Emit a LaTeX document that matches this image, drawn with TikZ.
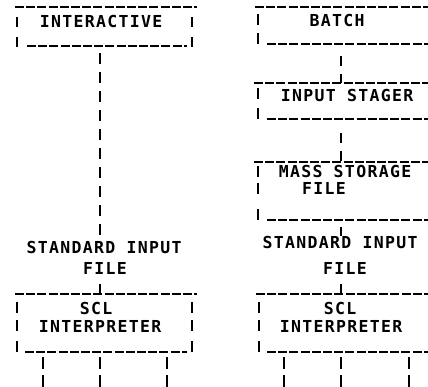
\documentclass[tikz,border=0pt]{standalone}
\usepackage{xcolor}
\usepackage{fontspec}
\usepackage{tikz}
\newfontfamily\lpfont{DejaVu Sans Mono}[BoldFont={DejaVu Sans Mono Bold}, LetterSpace=8]

\tikzset{
    lptext/.style={font=\fontsize{16.5}{18}\lpfont\bfseries, inner sep=0pt},
    hline/.style={line width=2.2pt, dash pattern=on 9pt off 2.2pt},
    bar/.style={line width=2.6pt},
    vline/.style={line width=2.6pt, dash pattern=on 11pt off 8pt},
    tick/.style={line width=2.6pt, dash pattern=on 10pt off 8pt},
    outline/.style={line width=2.6pt, dash pattern=on 12pt off 6pt}
}

\begin{document}
\begin{tikzpicture}[x=1pt, y=-1pt]
    \useasboundingbox (0,0) rectangle (428,386);

    % Texts
    \node[lptext] (inter) at (101,21) {INTERACTIVE};
    \node[lptext] (batch) at (337,20) {BATCH};
    \node[lptext] (stager) at (347,95) {INPUT STAGER};
    \node[lptext] (mass) at (345,171) {MASS STORAGE};
    \node[lptext] (massfile) at (324,188) {FILE};
    \node[lptext] (stdL) at (104,247) {STANDARD INPUT};
    \node[lptext] (fileL) at (105,268) {FILE};
    \node[lptext] (stdR) at (340,242) {STANDARD INPUT};
    \node[lptext] (fileR) at (345,268) {FILE};
    \node[lptext] (sclL) at (96,308) {SCL};
    \node[lptext] (interpL) at (100,326) {INTERPRETER};
    \node[lptext] (sclR) at (340,308) {SCL};
    \node[lptext] (interpR) at (341,326) {INTERPRETER};

    % Box edges
    \coordinate (inter-bot) at (100,53);
    \coordinate (batch-bot) at (341,56);
    \coordinate (stager-top) at (341,83);
    \coordinate (stager-bot) at (341,133);
    \coordinate (mass-top) at (341,162);
    \coordinate (mass-bot) at (341,227);
    \coordinate (sclL-top) at (100,294);
    \coordinate (sclR-top) at (341,294);
    \coordinate (sclL-bot) at (100,357);
    \coordinate (sclR-bot) at (341,357);

    % INTERACTIVE box
    \draw[hline] (15,7) -- (197,7);
    \draw[hline] (27,46) -- (187,46);
    \foreach \x in {17,192}
        \foreach \y in {17,37}
            \draw[bar] (\x,\y) -- ++(0,10);

    % BATCH box
    \draw[hline] (255,7) -- (428,7);
    \draw[hline] (267,44) -- (428,44);
    \foreach \y in {14,33}
        \draw[bar] (258,\y) -- ++(0,11);

    % INPUT STAGER box
    \draw[hline] (254,83) -- (428,83);
    \draw[hline] (267,119) -- (428,119);
    \foreach \y in {88,108}
        \draw[bar] (258,\y) -- ++(0,11);

    % MASS STORAGE FILE box
    \draw[hline] (254,162) -- (428,162);
    \draw[hline] (267,220) -- (428,220);
    \foreach \y in {166,183,209}
        \draw[bar] (258,\y) -- ++(0,11);

    % SCL INTERPRETER boxes
    \draw[hline] (15,294) -- (197,294);
    \draw[hline] (25,352) -- (187,352);
    \draw[hline] (256,294) -- (428,294);
    \draw[hline] (267,352) -- (428,352);
    \foreach \y in {302,320,341} {
        \draw[bar] (17,\y) -- ++(0,11);
        \draw[bar] (192,\y) -- ++(0,11);
        \draw[bar] (259,\y) -- ++(0,11);
    }

    % Connectors
    \draw[vline] (inter-bot) -- (stdL.north -| inter-bot);
    \draw[tick] (batch-bot) -- (stager-top);
    \draw[tick] (stager-bot) -- (mass-top);
    \draw[tick] (mass-bot) -- (stdR.north -| mass-bot);
    \draw[tick] ([yshift=-10pt]fileL.south -| sclL-top) -- (sclL-top);
    \draw[tick] ([yshift=-10pt]fileR.south -| sclR-top) -- (sclR-top);
    \foreach \dx in {-57,0,67}
        \draw[outline] ([xshift=\dx pt]sclL-bot) -- ++(0,33);
    \foreach \dx in {-57,0,68}
        \draw[outline] ([xshift=\dx pt]sclR-bot) -- ++(0,33);
\end{tikzpicture}
\end{document}
